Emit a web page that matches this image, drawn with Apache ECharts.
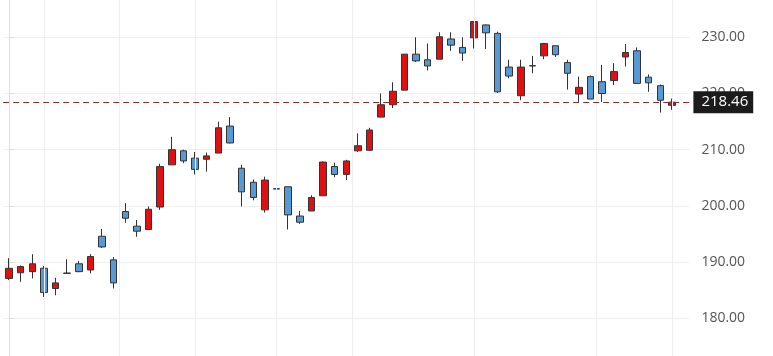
<!DOCTYPE html>
<html>
<head>
<meta charset="utf-8">
<script src="https://cdn.jsdelivr.net/npm/echarts@6.0.0/dist/echarts.min.js"></script>
<style>
html,body{margin:0;padding:0;background:#fff;}
#chart{width:773px;height:356px;}
</style>
</head>
<body>
<div id="chart"></div>
<script>
// ---- data ----
const opens  = [187.1,188.1,188.3,188.9,185.3,188.0,189.7,188.6,194.6,190.4,
                199.0,196.4,195.8,199.8,207.3,209.8,208.5,208.3,209.4,214.2,
                206.7,204.2,199.3,203.0,203.4,198.2,199.1,201.8,207.0,205.6,
                209.8,209.9,215.8,218.0,220.6,227.0,226.0,226.1,229.7,228.2,
                229.9,232.2,230.7,224.7,219.6,224.9,226.7,228.5,225.5,219.9,
                223.0,222.1,222.3,226.5,227.6,222.9,221.4,217.9];
const closes = [188.9,189.2,189.7,184.6,186.3,188.05,188.3,191.0,192.7,186.3,
                197.8,195.5,199.4,207.0,210.0,208.0,206.5,208.9,213.9,211.2,
                202.5,201.5,204.6,203.05,198.4,197.1,201.5,207.8,205.6,208.0,
                210.7,213.5,218.0,220.4,227.0,225.8,224.9,230.1,228.6,227.2,
                232.8,230.8,220.3,223.1,224.7,224.95,228.9,226.9,223.6,221.1,
                219.0,220.0,223.9,227.3,221.8,221.9,218.8,218.46];
const lows   = [186.8,186.5,187.1,183.8,184.1,187.95,188.2,188.0,192.5,185.3,
                197.0,194.5,195.7,199.3,207.3,207.6,205.6,206.1,209.4,211.1,
                199.9,201.0,198.8,199.6,195.8,196.8,199.1,201.8,205.1,204.6,
                209.6,209.8,215.8,217.4,220.6,225.6,224.1,226.1,227.6,225.8,
                228.0,227.9,220.1,222.7,218.8,223.6,226.1,226.5,220.7,218.5,
                219.0,218.5,221.5,224.8,221.7,220.3,216.6,217.1];
const highs  = [190.7,189.4,191.4,189.3,187.2,190.5,190.2,191.4,195.9,190.9,
                200.5,197.5,199.9,207.5,212.3,210.0,209.6,209.5,215.0,215.8,
                207.3,204.7,205.2,203.1,203.4,199.1,201.9,207.9,207.7,208.2,
                212.9,213.9,220.0,222.0,227.0,230.0,228.9,230.9,230.9,230.0,
                232.8,232.3,231.0,226.0,226.0,226.7,228.9,228.5,226.0,223.0,
                223.2,225.1,225.4,228.8,228.2,223.4,221.6,219.1];
// category slots (one spare slot on the right, as in the reference)
const categories = Array.from({length: opens.length + 1}, (_, i) => 'D' + (i + 1));
// y tick labels
const yTicks = [170, 180, 190, 200, 210, 220, 230, 240];
// vertical guide lines (in category-index units)
const vGridAt = [3, 9.5, 16, 23, 29.5, 40, 50.5, 57];
const lastPrice = closes[closes.length - 1];

const ohlc = opens.map((o, i) => [o, closes[i], lows[i], highs[i]]);

const chart = echarts.init(document.getElementById('chart'), null, {renderer: 'canvas'});
chart.setOption({
  animation: false,
  backgroundColor: '#ffffff',
  grid: {left: 3.2, right: 83.6, top: -18.9, bottom: -18.5,
         containLabel: false, outerBoundsMode: 'none'},
  xAxis: [
    {type: 'category', data: categories, boundaryGap: true, show: false,
     splitLine: {show: false}},
    {type: 'value', min: -0.5, max: categories.length - 0.5, show: false,
     splitLine: {show: false}}
  ],
  yAxis: {
    type: 'value', position: 'right', offset: 5,
    min: yTicks[0], max: yTicks[yTicks.length - 1], interval: 10,
    axisLine: {show: true, lineStyle: {color: '#dddddd', width: 1}},
    axisTick: {show: true, length: 5, lineStyle: {color: '#dddddd'}},
    axisLabel: {color: '#555555', fontSize: 14, fontFamily: 'Open Sans, sans-serif',
                margin: 7, showMinLabel: false, showMaxLabel: false,
                formatter: v => v.toFixed(2)},
    splitLine: {show: true, lineStyle: {color: '#efefef', width: 1}}
  },
  series: [
    {
      type: 'line', xAxisIndex: 1, yAxisIndex: 0, z: 1, silent: true,
      data: [[-5, 200]], symbol: 'none', lineStyle: {width: 0},
      markLine: {
        silent: true, symbol: 'none', animation: false,
        label: {show: false},
        lineStyle: {color: '#efefef', type: 'solid', width: 1},
        data: vGridAt.map(v => ({xAxis: v}))
      }
    },
    {
      type: 'candlestick', xAxisIndex: 0, yAxisIndex: 0, z: 3,
      data: ohlc, barWidth: 7,
      itemStyle: {
        color: '#dd1111', color0: '#5799d4',
        borderColor: '#333333', borderColor0: '#333333', borderWidth: 1
      },
      markLine: {
        silent: true, symbol: 'none', animation: false,
        lineStyle: {color: '#8b2d26', type: [6, 4], width: 1},
        label: {
          show: true, position: 'end', distance: 4,
          formatter: () => lastPrice.toFixed(2),
          color: '#ffffff', backgroundColor: '#1b1b1b',
          fontSize: 15, fontFamily: 'Open Sans, sans-serif',
          padding: [4, 5, 3, 8]
        },
        data: [{yAxis: lastPrice}]
      }
    }
  ]
});
</script>
</body>
</html>
